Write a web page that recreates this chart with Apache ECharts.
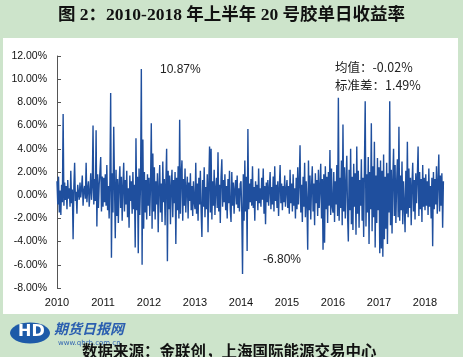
<!DOCTYPE html>
<html><head><meta charset="utf-8">
<script src="https://cdn.jsdelivr.net/npm/echarts@6/dist/echarts.min.js"></script>
<style>html,body{margin:0;padding:0;background:#cde4cb;}#c{width:463px;height:357px;}</style>
</head><body><div id="c"></div>
<script>
// Daily returns (%), per year
const years = [2010, 2011, 2012, 2013, 2014, 2015, 2016, 2017, 2018];
const r2010 = [1.2,-0.8,1.6,-1.5,0.4,-1.7,0.9,-0.6,7.0,-0.9,1.1,-0.4,0.8,-1.2,1.3,-0.3,0.6,-1.0,2.1,-0.7,0.5,-3.8,0.7,2.8,-0.5,0.3,-1.6,0.9,0.2,-0.4,1.1,-0.2,0.6,1.7,-0.9,0.4,0.8,-0.3,2.8,-0.6,0.5,1.2,-1.0,0.3,1.9,-0.4,0.7,6.0,-0.8,1.4,-0.5,5.6,-2.7,1.8,-1.1,0.9,2.0,3.3,-1.4,1.6,-0.7];
const r2011 = [-1.0,1.5,-0.6,1.8,-0.9,2.6,-1.3,0.8,-2.0,1.2,8.8,-5.4,1.9,-1.5,5.9,1.0,-3.7,2.2,-1.8,1.4,-2.4,0.9,2.5,-1.1,1.6,-2.2,0.7,2.8,-1.4,1.3,-0.8,2.1,-1.9,0.6,-2.8,1.7,-0.5,1.2,-1.6,2.0,-1.2,0.9,-4.5,4.9,-1.3,1.6,-5.0,2.3,-1.7,1.1,10.87,-6.0,4.8,-2.9,2.0,-1.5,1.3,-2.1,1.8,-0.9];
const r2012 = [1.5,-1.8,0.9,6.2,-2.9,3.6,-1.4,2.4,-2.1,1.2,-0.8,1.9,-3.2,0.7,2.6,-1.5,1.0,-2.3,2.9,-0.6,1.4,-2.6,1.1,4.0,-5.7,2.1,-1.2,1.7,-2.5,0.8,2.2,-1.9,1.3,-0.7,2.0,-4.2,1.5,-1.3,2.5,-2.0,6.5,-1.6,1.8,3.0,-2.2,1.4,-0.9,2.3,-1.5,0.6,1.6,-2.0,1.1,-0.5,1.9,-1.3,0.8,-1.8,1.2,-0.6];
const r2013 = [-1.2,2.8,-1.6,1.0,-2.2,1.5,-0.8,2.1,-1.4,-3.6,1.3,-1.0,2.4,-1.9,0.7,-1.2,1.8,-3.2,1.1,4.2,-1.5,4.0,-2.1,1.2,-0.9,2.2,-1.7,0.6,1.5,-1.1,3.7,-1.4,0.9,-2.4,1.6,3.1,-1.0,1.3,-0.6,1.8,-1.3,0.8,-2.0,1.4,-0.7,2.1,-1.2,-2.3,2.0,-0.9,1.1,-1.6,0.5,1.3,-0.8,1.7,-1.1,0.6,-1.4,1.0];
const r2014 = [1.2,-1.5,-6.8,1.8,-2.2,3.0,-1.4,1.6,-4.8,5.7,-1.2,1.0,-0.6,1.4,-0.9,2.5,-1.1,0.7,-2.2,1.2,-0.5,0.9,-1.3,2.3,-0.7,0.6,-1.0,1.5,-0.4,2.3,-1.6,0.8,-2.5,1.1,-0.6,1.3,-0.9,0.5,2.0,-1.2,0.7,-0.8,1.6,-1.4,2.5,-0.5,0.9,-1.1,1.2,-1.8,0.6,2.6,-0.7,1.0,-1.3,0.8,-0.6,1.7,-1.0,0.5];
const r2015 = [1.3,-1.1,0.8,-1.6,2.2,-0.7,1.0,-1.4,1.8,-0.9,0.6,-2.0,1.5,-1.2,2.4,-0.8,1.1,4.3,-1.5,0.9,-2.3,1.6,-1.0,2.8,-1.9,1.2,-0.6,-4.7,3.0,-1.3,1.7,-2.1,0.8,2.5,-1.4,1.0,-2.6,1.9,-0.7,1.3,-1.8,2.2,-1.1,0.6,2.7,-2.0,1.4,-4.7,1.8,-4.1,2.5,-1.2,1.6,-2.4,2.0,-0.9,3.9,-1.7,2.3,-1.0];
const r2016 = [-1.5,2.0,-2.3,1.2,-0.8,2.6,-1.8,8.4,-2.2,1.5,-1.1,3.0,-2.6,6.1,-1.4,2.4,-2.0,1.1,3.4,-1.7,-4.0,2.2,-1.3,4.0,-2.5,1.6,-3.0,2.7,-1.0,1.9,-3.4,4.2,-1.6,2.1,-2.8,1.3,-0.9,3.1,-2.2,1.5,-3.6,2.4,8.1,-2.7,1.8,-1.5,3.3,-4.2,2.0,-1.2,6.2,-3.1,2.5,-1.9,4.6,-4.5,1.7,-2.4,3.2,-1.3];
const r2017 = [2.4,-5.0,3.0,-4.6,2.1,-5.3,3.5,-3.8,1.6,-2.9,2.8,-4.2,1.9,-1.5,8.1,-2.6,2.2,-3.3,1.4,4.0,-1.8,2.6,-2.4,1.1,3.1,-1.9,5.9,-2.2,1.7,-1.3,2.9,-2.5,1.2,-0.8,-3.2,2.1,-1.6,4.6,-1.9,2.3,-1.1,1.5,-2.6,0.9,2.8,-1.4,1.3,-2.1,1.9,-0.7,1.6,4.2,-1.8,2.0,-1.2,1.4,-2.3,2.6,-1.0,1.5];
const r2018 = [-1.3,1.8,-0.9,1.2,-1.7,2.3,-1.0,0.8,-2.0,1.5,-4.4,2.0,-1.2,1.4,-0.8,2.5,-1.6,1.1,3.5,-1.4,1.7,-0.9,1.9,-2.8,1.2];
const yearly = [r2010, r2011, r2012, r2013, r2014, r2015, r2016, r2017, r2018];
const yTicks = [-8, -6, -4, -2, 0, 2, 4, 6, 8, 10, 12];
const titleText = '图 2：2010-2018 年上半年 20 号胶单日收益率';
const statMean = '均值：-0.02%';
const statStd = '标准差：1.49%';
const maxLabel = '10.87%';
const minLabel = '-6.80%';
const sourceText = '数据来源：金联创，上海国际能源交易中心';

const PER_YEAR = 60; // sampled points per trading year
const points = [];
yearly.forEach((arr, k) => {
  arr.forEach((v, i) => points.push([years[k] + i / PER_YEAR, v]));
});

const chart = echarts.init(document.getElementById('c'));
chart.setOption({
  backgroundColor: '#cde4cb',
  animation: false,
  grid: { left: 57, right: 15, top: 56, bottom: 69 },
  xAxis: {
    type: 'value', min: 2010, max: 2018.5, interval: 1,
    axisLine: { show: false }, axisTick: { show: false }, splitLine: { show: false },
    axisLabel: {
      showMaxLabel: false, margin: 9, color: '#111',
      fontFamily: 'Liberation Sans', fontSize: 11,
      formatter: v => Number.isInteger(v) ? String(v) : ''
    }
  },
  yAxis: {
    type: 'value', min: yTicks[0], max: yTicks[yTicks.length - 1], interval: 2,
    axisLine: { show: true, lineStyle: { color: '#555', width: 1 } },
    axisTick: { show: true, inside: true, length: 4, lineStyle: { color: '#555' } },
    splitLine: { show: false },
    axisLabel: {
      margin: 10, color: '#111', fontFamily: 'Liberation Sans', fontSize: 10.5,
      formatter: v => v.toFixed(2) + '%'
    }
  },
  series: [{
    type: 'line', data: points, showSymbol: false, symbol: 'none',
    lineStyle: { color: '#1f4f9e', width: 1.4 }, z: 3
  }],
  graphic: [
    { type: 'rect', z: -10, shape: { x: 3, y: 38, width: 455, height: 276 }, style: { fill: '#ffffff' } },
    { type: 'text', left: 'center', top: 7, style: { text: titleText, fill: '#111', font: 'bold 17.5px "Liberation Serif", "Noto Sans CJK SC"' } },
    { type: 'text', left: 335, top: 61, style: { text: statMean, fill: '#222', font: '12.5px "Noto Sans CJK SC"' } },
    { type: 'text', left: 335, top: 79, style: { text: statStd, fill: '#222', font: '12.5px "Noto Sans CJK SC"' } },
    { type: 'text', left: 160, top: 64, style: { text: maxLabel, fill: '#222', font: '12px "Liberation Sans"' } },
    { type: 'text', left: 263, top: 254, style: { text: minLabel, fill: '#222', font: '12px "Liberation Sans"' } },
    { type: 'ellipse', shape: { cx: 30, cy: 333, rx: 20, ry: 10.5 }, style: { fill: '#1d5aa8' } },
    { type: 'text', left: 18, top: 324, style: { text: 'HD', fill: '#ffffff', font: 'bold 16px "DejaVu Sans"' } },
    { type: 'text', left: 54, top: 322, style: { text: '期货日报网', fill: '#2b5fb0', font: 'italic bold 14px "Noto Sans CJK SC"' } },
    { type: 'text', left: 58, top: 340, style: { text: 'www.qhrb.com.cn', fill: '#2b5fb0', font: '7px "DejaVu Sans"' } },
    { type: 'text', left: 82, top: 343, style: { text: sourceText, fill: '#111', font: 'bold 15.5px "Noto Sans CJK SC"' } }
  ]
});
</script>
</body></html>
